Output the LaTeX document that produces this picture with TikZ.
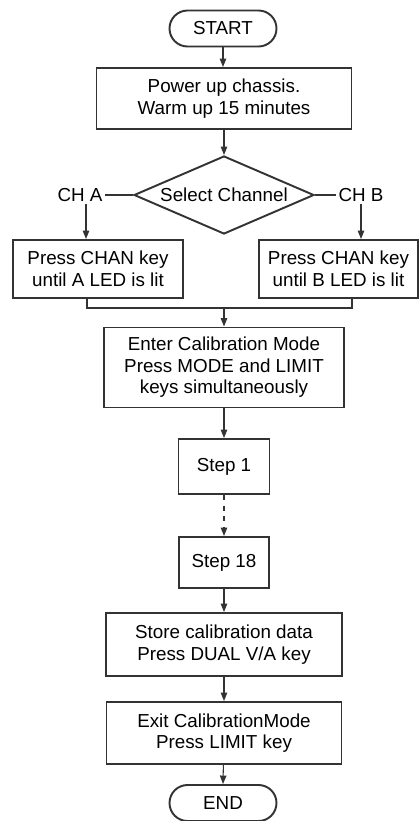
\documentclass[tikz,border=0pt]{standalone}
\usepackage{fontspec}
\setmainfont{Liberation Sans}
\usetikzlibrary{arrows.meta, shapes.geometric}
\definecolor{cline}{HTML}{333333}
\tikzset{
  every picture/.style={font=\fontsize{10.7pt}{12.3pt}\selectfont, line width=1.1pt},
  box/.style={draw=cline, fill=white, align=center, inner sep=2pt},
  term/.style={draw=cline, rounded corners=0.36cm, minimum width=2.14cm, minimum height=0.72cm, inner sep=0pt},
  decide/.style={draw=cline, diamond, aspect=2.3, minimum width=3.6cm, minimum height=1.56cm, inner sep=0pt},
  label/.style={inner sep=1pt},
  arrow/.style={-{Triangle[length=1.7mm, width=1.3mm]}, draw=cline, line width=0.6pt},
  wire/.style={draw=cline, line width=0.6pt},
}

\begin{document}
\begin{tikzpicture}
  \useasboundingbox (0,0) rectangle (8.38,-16.42);
  \node[term] (start) at (4.46,-0.57) {START};
  \node[box, minimum width=5.1cm, minimum height=1.22cm] (power) at (4.48,-1.97) {Power up chassis.\\ Warm up 15 minutes};
  \node[decide] (sel) at (4.48,-3.9) {Select Channel};
  \node[label] (cha) at (1.6,-3.9) {CH A};
  \node[label] (chb) at (7.22,-3.9) {CH B};
  \node[box, minimum width=3.4cm, minimum height=1.16cm] (boxa) at (1.96,-5.38) {Press CHAN key\\ until A LED is lit};
  \node[box, minimum width=3.18cm, minimum height=1.16cm] (boxb) at (6.77,-5.38) {Press CHAN key\\ until B LED is lit};
  \coordinate (merge) at (4.48,-6.16);
  \node[box, minimum width=4.8cm, minimum height=1.6cm] (cal) at (4.48,-7.35) {Enter Calibration Mode\\ Press MODE and LIMIT\\ keys simultaneously};
  \node[box, minimum width=1.82cm, minimum height=1.1cm] (s1) at (4.48,-9.33) {Step 1};
  \node[box, minimum width=1.8cm, minimum height=1.02cm] (s18) at (4.48,-11.25) {Step 18};
  \node[box, minimum width=4.72cm, minimum height=1.26cm] (store) at (4.48,-12.89) {Store calibration data\\ Press DUAL V/A key};
  \node[box, minimum width=4.7cm, minimum height=1.24cm] (exit) at (4.48,-14.66) {Exit CalibrationMode\\ Press LIMIT key};
  \node[term] (end) at (4.46,-16.06) {END};
  \draw[arrow] (start) -- (start |- power.north);
  \draw[arrow] (power) -- (sel);
  \draw[wire] (sel.west) -- (cha.east);
  \draw[wire] (sel.east) -- (chb.west);
  \draw[arrow] ([xshift=0.12cm]cha.south) -- ([xshift=0.12cm]cha.south |- boxa.north);
  \draw[arrow] (chb.south) -- (chb.south |- boxb.north);
  \draw[wire] ([xshift=-0.22cm]boxa.south) |- (merge) -| ([xshift=0.27cm]boxb.south);
  \draw[arrow] (merge) -- (cal);
  \draw[arrow] (cal) -- (s1);
  \draw[arrow, dashed] (s1) -- (s18);
  \draw[arrow] (s18) -- (store);
  \draw[arrow] (store) -- (exit);
  \draw[arrow] (exit) -- (end |- end.north);
\end{tikzpicture}
\end{document}
